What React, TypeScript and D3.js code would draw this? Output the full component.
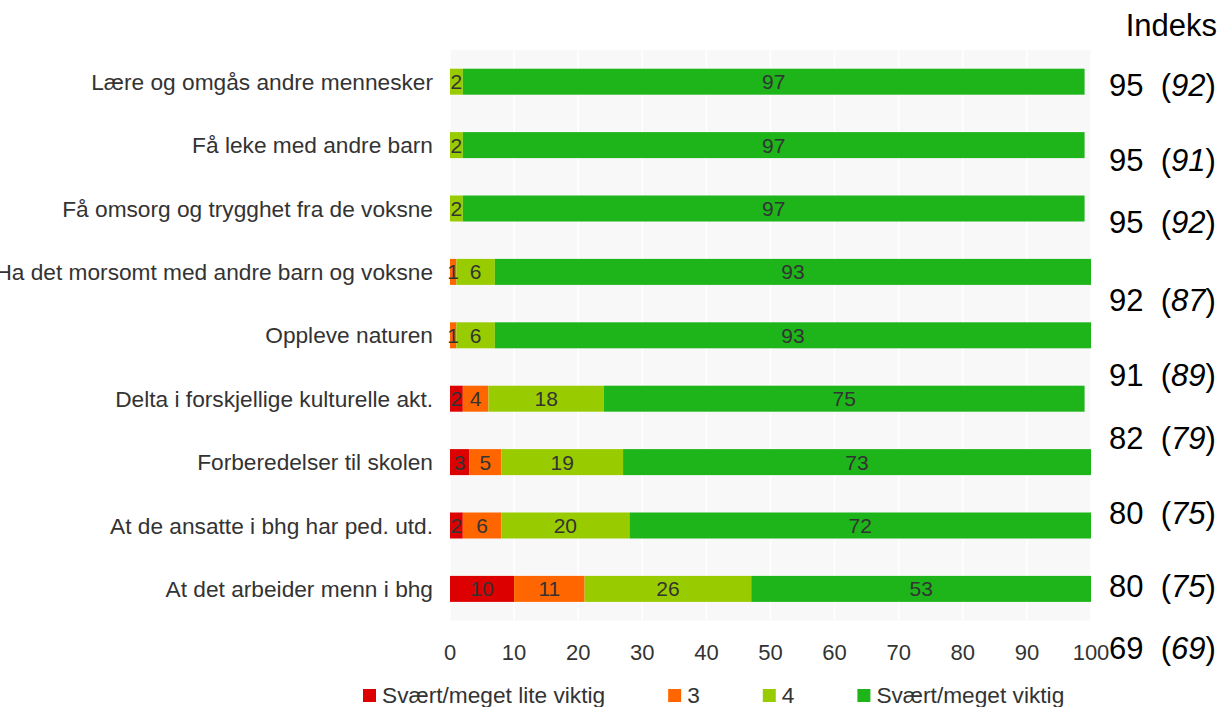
import React from "react";
import * as d3 from "d3";

const categories = [
  "Lære og omgås andre mennesker",
  "Få leke med andre barn",
  "Få omsorg og trygghet fra de voksne",
  "Ha det morsomt med andre barn og voksne",
  "Oppleve naturen",
  "Delta i forskjellige kulturelle akt.",
  "Forberedelser til skolen",
  "At de ansatte i bhg har ped. utd.",
  "At det arbeider menn i bhg",
];

const seriesNames = ["Svært/meget lite viktig", "3", "4", "Svært/meget viktig"];
const seriesColors = ["#dd0000", "#ff6600", "#99cc00", "#1db51a"];

const lowValues = [0, 0, 0, 0, 0, 2, 3, 2, 10];
const threeValues = [0, 0, 0, 1, 1, 4, 5, 6, 11];
const fourValues = [2, 2, 2, 6, 6, 18, 19, 20, 26];
const highValues = [97, 97, 97, 93, 93, 75, 73, 72, 53];

const xTicks = [0, 10, 20, 30, 40, 50, 60, 70, 80, 90, 100];

const indexTitle = "Indeks";
const indexValues = [95, 95, 95, 92, 91, 82, 80, 80, 69];
const indexPrevious = [92, 91, 92, 87, 89, 79, 75, 75, 69];
// baselines of the free-standing index text lines (layout, not data)
const indexBaselines = [96, 171, 233, 311, 386, 449, 524, 597, 659];

const FONT = "'Liberation Sans', Arial, Helvetica, sans-serif";

function measure(text: string, size: number): number {
  if (typeof document === "undefined") return text.length * size * 0.5;
  const c = document.createElement("canvas");
  const ctx = c.getContext("2d");
  if (!ctx) return text.length * size * 0.5;
  ctx.font = `${size}px ${FONT}`;
  return ctx.measureText(text).width;
}

export default function App() {
  const W = 1220;
  const H = 707;
  const plotLeft = 450;
  const plotRight = 1091;
  const plotTop = 50;
  const plotBottom = 620.6;

  const x = d3.scaleLinear().domain([0, 100]).range([plotLeft, plotRight]);
  const y = d3
    .scaleBand<string>()
    .domain(categories)
    .range([plotTop, plotBottom])
    .paddingInner(0.59)
    .paddingOuter(0.295);

  const table = categories.map((c, i) => ({
    cat: c,
    s0: lowValues[i],
    s1: threeValues[i],
    s2: fourValues[i],
    s3: highValues[i],
  }));
  const stack = d3.stack<any>().keys(["s0", "s1", "s2", "s3"]);
  const stacked = stack(table);

  const labelSize = 22.7;
  const tickSize = 22;
  const barLabelSize = 21;
  const textColor = "#333333";

  // legend layout
  const legendStart = 363;
  const sq = 13;
  const legendGap = 63;
  let cursor = legendStart;
  const legendItems = seriesNames.map((name, i) => {
    const item = { name, color: seriesColors[i], x: cursor };
    cursor += sq + 6 + measure(name, labelSize) + legendGap;
    return item;
  });

  return (
    <svg
      width={W}
      height={H}
      style={{ position: "absolute", left: 0, top: 0, display: "block", background: "#ffffff" }}
      fontFamily={FONT}
    >
      <rect x={plotLeft} y={plotTop} width={plotRight - plotLeft} height={plotBottom - plotTop} fill="#f8f8f8" />
      {xTicks.map((t) => (
        <line key={t} x1={x(t)} x2={x(t)} y1={plotTop} y2={plotBottom} stroke="#ffffff" strokeWidth={1.5} />
      ))}

      {stacked.map((layer, si) => (
        <g key={layer.key} fill={seriesColors[si]}>
          {layer.map((d, i) => {
            const w = x(d[1]) - x(d[0]);
            if (w <= 0) return null;
            return (
              <rect key={i} x={x(d[0])} y={y(categories[i])!} width={w} height={y.bandwidth()} />
            );
          })}
        </g>
      ))}

      {stacked.map((layer, si) => (
        <g key={"l" + layer.key} fontSize={barLabelSize} fill={textColor} textAnchor="middle">
          {layer.map((d, i) => {
            const v = d[1] - d[0];
            if (v <= 0) return null;
            return (
              <text key={i} x={(x(d[0]) + x(d[1])) / 2} y={y(categories[i])! + y.bandwidth() / 2} dy="0.36em">
                {v}
              </text>
            );
          })}
        </g>
      ))}

      <g fontSize={labelSize} fill={textColor} textAnchor="end">
        {categories.map((c) => (
          <text key={c} x={433} y={y(c)! + y.bandwidth() / 2} dy="0.36em">
            {c}
          </text>
        ))}
      </g>

      <g fontSize={tickSize} fill={textColor} textAnchor="middle">
        {xTicks.map((t) => (
          <text key={t} x={x(t)} y={660}>
            {t}
          </text>
        ))}
      </g>

      <g fontSize={31} fill="#000000">
        <text x={1217} y={36} textAnchor="end">
          {indexTitle}
        </text>
        {indexValues.map((v, i) => (
          <text key={i} x={1109} y={indexBaselines[i]} style={{ whiteSpace: "pre" }}>
            {`${v}  (`}
            <tspan fontStyle="italic">{indexPrevious[i]}</tspan>
            {")"}
          </text>
        ))}
      </g>

      <g fontSize={labelSize} fill={textColor}>
        {legendItems.map((it) => (
          <g key={it.name}>
            <rect x={it.x} y={689} width={sq} height={sq} fill={it.color} />
            <text x={it.x + sq + 6} y={703}>
              {it.name}
            </text>
          </g>
        ))}
      </g>
    </svg>
  );
}
